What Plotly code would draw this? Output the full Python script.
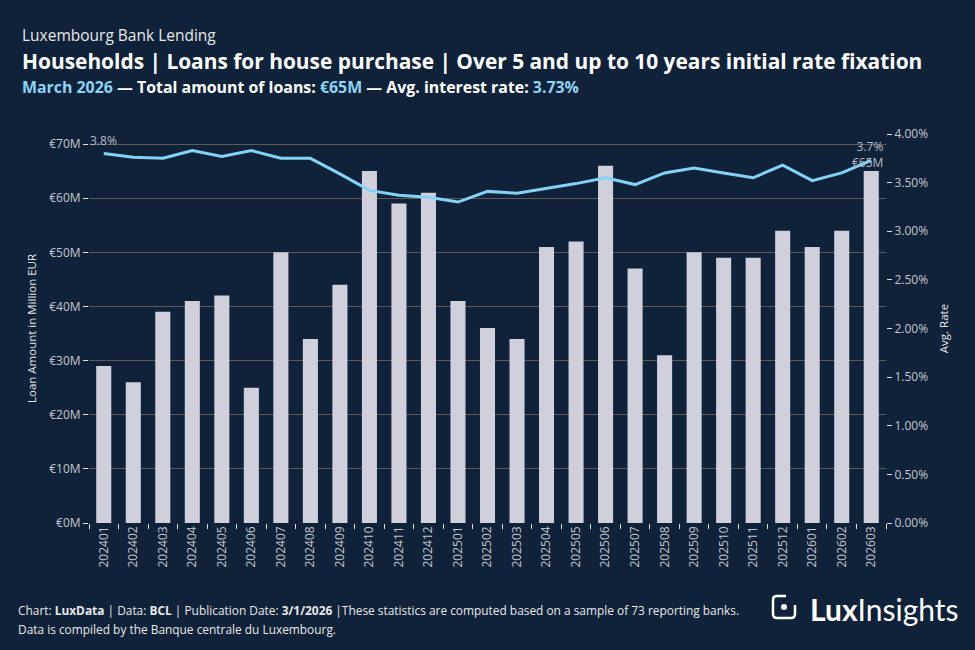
import plotly.graph_objects as go

months = ["202401","202402","202403","202404","202405","202406","202407","202408","202409",
          "202410","202411","202412","202501","202502","202503","202504","202505","202506",
          "202507","202508","202509","202510","202511","202512","202601","202602","202603"]
loans_m = [29, 26, 39, 41, 42, 25, 50, 34, 44, 65, 59, 61, 41, 36, 34, 51, 52, 66,
           47, 31, 50, 49, 49, 54, 51, 54, 65]
rates = [3.80, 3.76, 3.75, 3.83, 3.77, 3.83, 3.75, 3.75, 3.59, 3.42, 3.37, 3.35, 3.30, 3.41,
         3.39, 3.44, 3.49, 3.55, 3.48, 3.60, 3.65, 3.60, 3.55, 3.68, 3.52, 3.60, 3.73]

BG = "#0f223a"
BAR = "#d0d0dc"
LINE = "#84d2f6"
ACC = "#8fd3f4"
TICK = "#c4c7cd"
GRID = "#5e5954"
FONT = "Open Sans"

fig = go.Figure()
fig.add_trace(go.Bar(x=months, y=loans_m, marker=dict(color=BAR, line=dict(width=0)),
                     yaxis="y", name="Loans", hoverinfo="skip"))
fig.add_trace(go.Scatter(x=months, y=rates, mode="lines", line=dict(color=LINE, width=3),
                         yaxis="y2", name="Rate", hoverinfo="skip"))

fig.update_layout(
    width=975, height=650,
    paper_bgcolor=BG, plot_bgcolor=BG,
    margin=dict(l=89, r=89, t=134, b=127),
    showlegend=False,
    bargap=0.49,
    font=dict(family=FONT, color=TICK, size=12),
    xaxis=dict(type="category", categoryorder="array", categoryarray=months,
               range=[-0.5, len(months) - 0.5], autorange=False,
               tickangle=-90, tickson="boundaries", ticks="outside",
               ticklen=5, tickcolor="#e0e0e0", tickfont=dict(size=12, color=TICK),
               showgrid=False, showline=False, zeroline=False),
    yaxis=dict(range=[0, 71.85], dtick=10, tickprefix="€", ticksuffix="M",
               showgrid=True, gridcolor=GRID, gridwidth=1, zeroline=False,
               ticks="outside", ticklen=5, tickcolor="#e0e0e0",
               tickfont=dict(size=12, color=TICK),
               title=dict(text="Loan Amount in Million EUR", font=dict(size=11.5, color="#e6e6e6"), standoff=10)),
    yaxis2=dict(range=[0, 4.0], dtick=0.5, tickformat=".2f", ticksuffix="%",
                overlaying="y", side="right", showgrid=False, zeroline=False,
                ticks="outside", ticklen=5, tickcolor="#e0e0e0",
                tickfont=dict(size=12, color=TICK),
                title=dict(text="Avg. Rate", font=dict(size=11.5, color="#e6e6e6"), standoff=12)),
)

ann = []
def px_x(px):
    return (px - 89) / 797
def px_y(py):
    return (523 - py) / 389

ann.append(dict(x=px_x(20), y=px_y(35), xref="paper", yref="paper", xanchor="left", yanchor="middle",
                text="Luxembourg Bank Lending", showarrow=False, font=dict(size=15.5, color="#e8e8e8", family=FONT)))
ann.append(dict(x=px_x(20), y=px_y(61), xref="paper", yref="paper", xanchor="left", yanchor="middle",
                text="<b>Households | Loans for house purchase | Over 5 and up to 10 years initial rate fixation</b>",
                showarrow=False, font=dict(size=20.9, color="#ffffff", family=FONT)))
ann.append(dict(x=px_x(20), y=px_y(87), xref="paper", yref="paper", xanchor="left", yanchor="middle",
                text=(f"<b><span style='color:{ACC}'>March 2026</span> — Total amount of loans: "
                      f"<span style='color:{ACC}'>€{loans_m[-1]}M</span> — Avg. interest rate: "
                      f"<span style='color:{ACC}'>{rates[-1]:.2f}%</span></b>"),
                showarrow=False, font=dict(size=15.9, color="#ffffff", family=FONT)))

# data labels on the line (category index positions)
ann.append(dict(x=0, y=rates[0], xref="x", yref="y2", yshift=13, xanchor="center", yanchor="middle",
                text=f"{rates[0]:.1f}%", showarrow=False, font=dict(size=12, color="#b8bcc4")))
ann.append(dict(x=len(months) - 1, y=rates[-1], xref="x", yref="y2", xshift=14, yshift=6, xanchor="right",
                yanchor="middle", align="right",
                text=f"{rates[-1]:.1f}%<br>€{loans_m[-1]}M", showarrow=False,
                font=dict(size=12, color="#b8bcc4")))

# footer
ann.append(dict(x=px_x(16), y=px_y(610), xref="paper", yref="paper", xanchor="left", yanchor="middle",
                text=("Chart: <b>LuxData</b> | Data: <b>BCL</b> | Publication Date: <b>3/1/2026</b> |"
                      "These statistics are computed based on a sample of 73 reporting banks."),
                showarrow=False, font=dict(size=11.9, color="#e8e8e8", family=FONT)))
ann.append(dict(x=px_x(16), y=px_y(629), xref="paper", yref="paper", xanchor="left", yanchor="middle",
                text="Data is compiled by the Banque centrale du Luxembourg.",
                showarrow=False, font=dict(size=11.9, color="#e8e8e8", family=FONT)))

# logo text
ann.append(dict(x=px_x(808), y=px_y(609), xref="paper", yref="paper", xanchor="left", yanchor="middle",
                text="<b>Lux</b>Insights", showarrow=False,
                font=dict(size=30, color="#ffffff", family="Lato")))

fig.update_layout(annotations=ann)

# logo icon
def P(px, py):
    return f"{px_x(px):.5f},{px_y(py):.5f}"
path = ("M " + P(786, 596) + " L " + P(777, 596) + " Q " + P(773, 596) + " " + P(773, 600) +
        " L " + P(773, 614) + " Q " + P(773, 618) + " " + P(777, 618) +
        " L " + P(791, 618) + " Q " + P(795, 618) + " " + P(795, 614) + " L " + P(795, 605))
fig.add_shape(type="path", path=path, xref="paper", yref="paper",
              line=dict(color="#ffffff", width=2.5))
fig.add_shape(type="circle", xref="paper", yref="paper",
              x0=px_x(781), x1=px_x(787), y0=px_y(610), y1=px_y(604),
              fillcolor="#ffffff", line=dict(width=0))

fig.write_html("out.html")
